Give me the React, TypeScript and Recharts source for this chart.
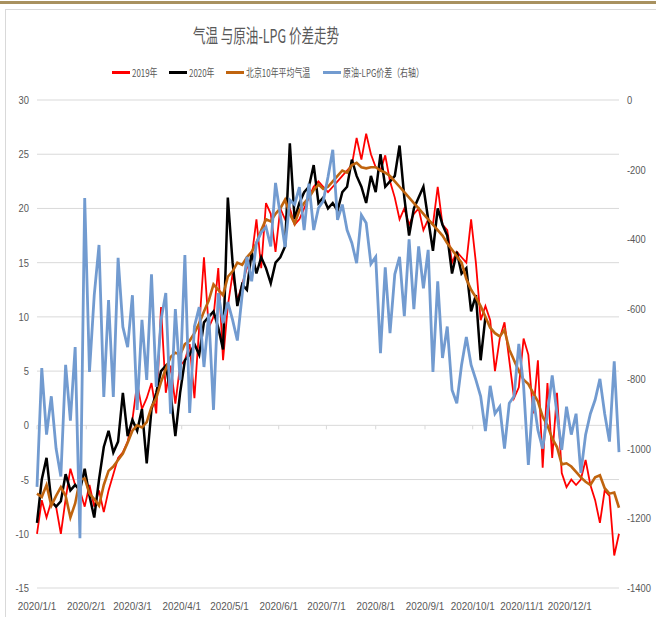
import React from "react";
import {
  ComposedChart,
  Line,
  XAxis,
  YAxis,
  CartesianGrid,
  ReferenceLine,
} from "recharts";

// day-of-year (2020) of each month start, and their labels
const monthStarts = [0, 31, 60, 91, 121, 152, 182, 213, 244, 274, 305, 335];
const monthLabels = [
  "2020/1/1", "2020/2/1", "2020/3/1", "2020/4/1", "2020/5/1", "2020/6/1",
  "2020/7/1", "2020/8/1", "2020/9/1", "2020/10/1", "2020/11/1", "2020/12/1",
];
const leftTicks = [-15, -10, -5, 0, 5, 10, 15, 20, 25, 30];
const rightTicks = [-1400, -1200, -1000, -800, -600, -400, -200, 0];

// one reading every 3 days
const STEP = 3;

const temp2019 = [
  -10, -6.9, -8.5, -7, -7.5, -10, -6.8, -4, -5.5, -6,
  -7.5, -5.5, -7.5, -6, -8, -6, -4.5, -3, -2.5, -1.5,
  0.5, 3.9, 1.5, 2.5, 3.9, 1.1, 10.9, 3, 5.5, 2,
  5.5, 6, 7.5, 2.5, 9, 15.5, 9, 10, 14.5, 6,
  11, 14, 11.5, 13, 14.5, 15.5, 19, 14.5, 20.5, 19.5,
  16, 20, 19, 20, 18.5, 19, 20, 21, 22, 22.5,
  22, 21.5, 22, 22.5, 23, 23.5, 24, 26.5, 24.5, 26.9,
  25, 23.8, 23.5, 24.9, 22.5, 21, 19, 20, 18.5, 19.5,
  20, 18, 19, 18.5, 22, 18.5, 18, 15, 16, 15.5,
  15, 19, 15, 9.7, 11, 9.7, 5, 8, 9.5, 6,
  2.5, 3.5, 8, 6.5, 1.1, 6, -3.9, 3.9, -3, 3,
  -4.4, -5.7, -5, -5.5, -5, -3.2, -5.5, -6.9, -9, -6,
  -6.5, -12, -10,
];

const temp2020 = [
  -9, -5, -3, -7, -7.5, -7, -4.5, -6, -5.5, -6,
  -4, -6.5, -8.5, -5, -2, -0.5, -2.5, -1.5, 3, -1,
  0.5, -0.5, 1.5, -3.5, 1.5, 3, 5, 5.5, 3, -1,
  3, 6, 6.5, 7.5, 6.5, 9.5, 10, 10.5, 9, 7,
  21, 15, 11, 13, 12.5, 16, 14, 15.5, 14.5, 13.1,
  15, 15.5, 16.5, 26, 19, 20.5, 21.5, 22, 24, 20.5,
  21, 20, 20.5, 19.8, 21.5, 22, 24.5, 23, 22, 20.5,
  23, 21.5, 25, 22, 22.5, 23, 25.8, 21, 17.5, 20,
  21, 22, 19, 16.1, 20, 18.5, 17.5, 14, 16, 14,
  14.5, 10.5, 12, 6, 10,
];

const avg10y = [
  -6.3, -6.6, -5.5, -7.4, -6.5, -5.7, -6.5, -8.5, -7.2, -5,
  -4.9, -6.3, -6.8, -7.4, -5.5, -4.2, -3.8, -3.2, -2.6, -1.6,
  -0.5, 0, -0.2, 0.3, 1.7, 2.5, 4, 5.2, 6.3, 6.7,
  6.5, 7.5, 7.8, 8.5, 9.4, 10.5, 11.5, 13, 12.5, 12,
  13.7, 14.2, 15, 14.8, 15.5, 16, 16.8, 18, 19, 18.8,
  19.5, 20, 20.8, 19.5, 18.6, 19.8, 20.5, 21, 21.7, 22.2,
  21.8, 22, 22.5, 23, 23.5, 23.3, 24, 24.2, 23.8, 23.7,
  23.8, 23.8, 23.5, 23.3, 23, 22.5, 22, 21.5, 21, 20.5,
  20, 19.5, 19, 18.5, 18, 17.5, 16.8, 16.2, 15.6, 15,
  13.5, 12.5, 11.8, 11, 10, 9, 8.5, 8.2, 8.8, 7,
  6, 5, 4.2, 3.8, 3, 2.2, 0.8, 0, -1.2, -2,
  -3.6, -3.5, -3.8, -4.3, -4.8, -5.2, -5.5, -4.8, -4.6, -5.8,
  -6.3, -6.2, -7.6,
];

const spread = [
  -1110, -769, -960, -850, -1000, -1080, -760, -920, -709, -1257,
  -281, -780, -560, -416, -852, -574, -852, -453, -651, -709,
  -560, -889, -631, -803, -500, -823, -631, -554, -900, -600,
  -803, -445, -898, -650, -594, -766, -613, -889, -554, -640,
  -580, -631, -690, -560, -450, -520, -410, -380, -364, -420,
  -238, -330, -422, -287, -300, -250, -373, -240, -373, -310,
  -290, -221, -143, -344, -300, -373, -410, -468, -330, -353,
  -470, -450, -726, -480, -669, -500, -450, -620, -400, -600,
  -420, -540, -430, -780, -520, -740, -650, -832, -870, -760,
  -680, -760, -803, -850, -950, -820, -900, -880, -1000, -870,
  -850, -700, -820, -1047, -850, -947, -1000, -900, -790, -900,
  -1004, -880, -960, -900, -1070, -960, -900, -860, -800, -900,
  -980, -750, -1010,
];

const data = spread.map((s, i) => ({
  day: i * STEP,
  t2019: temp2019[i],
  t2020: temp2020[i],
  avg: avg10y[i],
  spread: s,
}));

const legendItems = [
  { label: "2019年", color: "#FF0000", x: 112 },
  { label: "2020年", color: "#000000", x: 169 },
  { label: "北京10年平均气温", color: "#C0640E", x: 226 },
  { label: "原油-LPG价差（右轴）", color: "#729BD0", x: 323 },
];

const textColor = "#595959";
const tickFont = "'Liberation Sans', Arial, sans-serif";
const cjkFont = "'Noto Sans CJK SC', 'Noto Sans', sans-serif";

function XTick(props: any) {
  const { x, y, payload } = props;
  const i = monthStarts.indexOf(payload.value);
  return (
    <text
      transform={`translate(${x},${y + 14}) scale(0.9,1)`}
      textAnchor="middle"
      fill={textColor}
      fontSize={11}
      fontFamily={tickFont}
    >
      {i >= 0 ? monthLabels[i] : ""}
    </text>
  );
}

function YTick(props: any) {
  const { x, y, payload, textAnchor } = props;
  return (
    <text
      transform={`translate(${x},${y + 4}) scale(0.85,1)`}
      textAnchor={textAnchor}
      fill={textColor}
      fontSize={11}
      fontFamily={tickFont}
    >
      {payload.value}
    </text>
  );
}

export default function App() {
  return (
    <div
      style={{
        position: "absolute",
        left: 0,
        top: 0,
        width: 656,
        height: 617,
        background: "#fff",
        overflow: "hidden",
      }}
    >
      <div style={{ position: "absolute", left: 0, top: 1, width: 656, height: 3, background: "#A8915F" }} />
      <div
        style={{
          position: "absolute",
          left: 5,
          top: 9,
          width: 700,
          height: 700,
          border: "1px solid #D9D9D9",
        }}
      />

      <div
        style={{
          position: "absolute",
          left: 0,
          top: 24,
          width: 532,
          textAlign: "center",
          fontFamily: cjkFont,
          fontSize: 19,
          lineHeight: "21px",
          color: textColor,
          transform: "scaleX(0.66)",
          transformOrigin: "266px 50%",
          whiteSpace: "nowrap",
        }}
      >
        气温 与原油-LPG 价差走势
      </div>

      {legendItems.map((it) => (
        <div key={it.label} style={{ position: "absolute", left: it.x, top: 64, height: 16 }}>
          <div
            style={{
              position: "absolute",
              left: 0,
              top: 7,
              width: 18,
              height: 3,
              background: it.color,
            }}
          />
          <div
            style={{
              position: "absolute",
              left: 20,
              top: 0,
              fontFamily: cjkFont,
              fontSize: 11,
              lineHeight: "16px",
              color: textColor,
              whiteSpace: "nowrap",
              transform: "scaleX(0.72)",
              transformOrigin: "0 50%",
            }}
          >
            {it.label}
          </div>
        </div>
      ))}

      <div style={{ position: "absolute", left: 0, top: 0 }}>
        <ComposedChart
          width={656}
          height={617}
          data={data}
          margin={{ top: 100, right: 0, bottom: 0, left: 0 }}
        >
          <CartesianGrid yAxisId="left" vertical={false} stroke="#D9D9D9" strokeWidth={1} />
          <XAxis
            dataKey="day"
            type="number"
            domain={[0, 366]}
            ticks={monthStarts}
            interval={0}
            height={29}
            axisLine={false}
            tickLine={false}
            tick={<XTick />}
          />
          <YAxis
            yAxisId="left"
            domain={[-15, 30]}
            ticks={leftTicks}
            interval={0}
            width={37}
            axisLine={false}
            tickLine={false}
            tick={<YTick />}
          />
          <YAxis
            yAxisId="right"
            orientation="right"
            domain={[-1400, 0]}
            ticks={rightTicks}
            interval={0}
            width={37}
            axisLine={false}
            tickLine={false}
            tick={<YTick />}
          />
          {monthStarts.map((d) => (
            <ReferenceLine
              key={d}
              yAxisId="left"
              segment={[
                { x: d, y: 0 },
                { x: d, y: -0.37 },
              ]}
              stroke="#D9D9D9"
            />
          ))}
          <Line
            yAxisId="left"
            type="linear"
            dataKey="t2019"
            stroke="#FF0000"
            strokeWidth={1.8}
            dot={false}
            isAnimationActive={false}
          />
          <Line
            yAxisId="left"
            type="linear"
            dataKey="t2020"
            stroke="#000000"
            strokeWidth={2.5}
            dot={false}
            isAnimationActive={false}
          />
          <Line
            yAxisId="left"
            type="linear"
            dataKey="avg"
            stroke="#C0640E"
            strokeWidth={2.6}
            dot={false}
            isAnimationActive={false}
          />
          <Line
            yAxisId="right"
            type="linear"
            dataKey="spread"
            stroke="#729BD0"
            strokeWidth={2.8}
            dot={false}
            isAnimationActive={false}
          />
        </ComposedChart>
      </div>
    </div>
  );
}
